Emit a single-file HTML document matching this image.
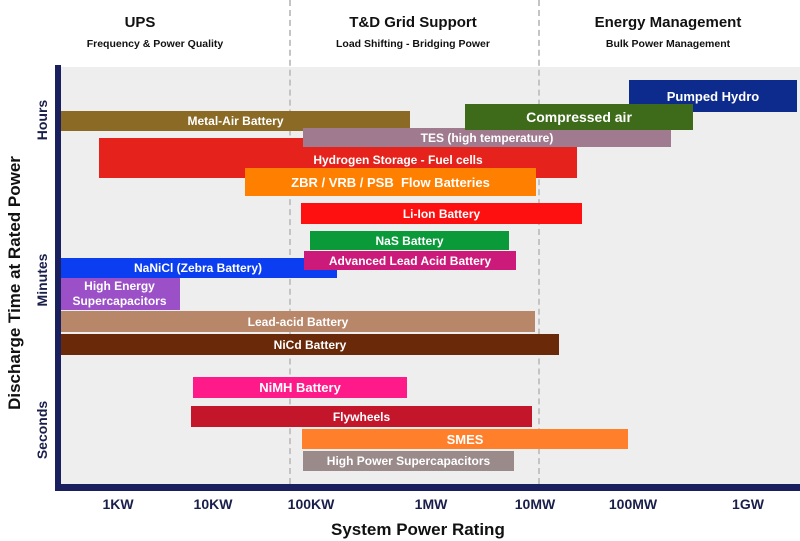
<!DOCTYPE html>
<html><head><meta charset="utf-8"><style>
body{margin:0;width:800px;height:541px;background:#fff;position:relative;overflow:hidden;font-family:"Liberation Sans",sans-serif;font-weight:bold}
.a{position:absolute}
.b{position:absolute;color:#fff;display:flex;align-items:center;justify-content:center;font-size:12px;white-space:nowrap}
.h{position:absolute;text-align:center;color:#111}
.t{position:absolute;top:496px;font-size:14px;color:#1a1f4a;transform:translateX(-50%)}
.y{position:absolute;font-size:14px;color:#1a1f4a;transform:translate(-50%,-50%) rotate(-90deg)}
</style></head><body>
<div class="a" style="left:61px;top:67px;width:739px;height:417px;background:#eeeeee"></div>
<div class="a" style="left:289px;top:0;height:484px;border-left:2px dashed #c4c4c4"></div>
<div class="a" style="left:538px;top:0;height:484px;border-left:2px dashed #c4c4c4"></div>
<div class="h" style="left:40px;width:200px;top:14px;font-size:15px">UPS</div>
<div class="h" style="width:260px;left:25px;top:38px;font-size:10.5px">Frequency &amp; Power Quality</div>
<div class="h" style="left:313px;width:200px;top:14px;font-size:15px">T&amp;D Grid Support</div>
<div class="h" style="left:293px;width:240px;top:38px;font-size:10.5px">Load Shifting - Bridging Power</div>
<div class="h" style="left:568px;width:200px;top:14px;font-size:15px">Energy Management</div>
<div class="h" style="left:568px;width:200px;top:38px;font-size:10.5px">Bulk Power Management</div>

<div class="b" style="left:629px;top:80px;width:168px;height:32px;background:#0d2b8c;font-size:13px">Pumped Hydro</div>
<div class="b" style="left:61px;top:111px;width:349px;height:20px;background:#8a6a25">Metal-Air Battery</div>
<div class="b" style="left:99px;top:138px;width:478px;height:40px;background:#e5221b;padding-left:120px;padding-top:4px;box-sizing:border-box">Hydrogen Storage - Fuel cells</div>
<div class="b" style="left:303px;top:128px;width:368px;height:19px;background:#a07a8f">TES (high temperature)</div>
<div class="b" style="left:465px;top:104px;width:228px;height:26px;background:#3d6b1a;font-size:14px">Compressed air</div>
<div class="b" style="left:245px;top:168px;width:291px;height:28px;background:#ff8000;font-size:13px">ZBR / VRB / PSB &nbsp;Flow Batteries</div>
<div class="b" style="left:301px;top:203px;width:281px;height:21px;background:#ff1010">Li-Ion Battery</div>
<div class="b" style="left:310px;top:231px;width:199px;height:19px;background:#0a9a3a">NaS Battery</div>
<div class="b" style="left:59px;top:258px;width:278px;height:20px;background:#0a3ef0">NaNiCl (Zebra Battery)</div>
<div class="b" style="left:304px;top:251px;width:212px;height:19px;background:#cc1a7a">Advanced Lead Acid Battery</div>
<div class="b" style="left:59px;top:278px;width:121px;height:32px;background:#9b50c8;white-space:normal;text-align:center;line-height:15px">High Energy Supercapacitors</div>
<div class="b" style="left:61px;top:311px;width:474px;height:21px;background:#b8876a">Lead-acid Battery</div>
<div class="b" style="left:61px;top:334px;width:498px;height:21px;background:#6a2a0a">NiCd Battery</div>
<div class="b" style="left:193px;top:377px;width:214px;height:21px;background:#ff1a8a;font-size:13px">NiMH Battery</div>
<div class="b" style="left:191px;top:406px;width:341px;height:21px;background:#c4162a">Flywheels</div>
<div class="b" style="left:302px;top:429px;width:326px;height:20px;background:#ff7f2a;font-size:13px">SMES</div>
<div class="b" style="left:303px;top:451px;width:211px;height:20px;background:#9a8a8a">High Power Supercapacitors</div>

<div class="a" style="left:55px;top:65px;width:6px;height:426px;background:#1a1f5e"></div>
<div class="a" style="left:55px;top:484px;width:745px;height:7px;background:#1a1f5e"></div>
<div class="t" style="left:118px">1KW</div>
<div class="t" style="left:213px">10KW</div>
<div class="t" style="left:311px">100KW</div>
<div class="t" style="left:431px">1MW</div>
<div class="t" style="left:535px">10MW</div>
<div class="t" style="left:633px">100MW</div>
<div class="t" style="left:748px">1GW</div>
<div class="a" style="left:331px;top:520px;font-size:17px;color:#111">System Power Rating</div>
<div class="y" style="left:42px;top:120px">Hours</div>
<div class="y" style="left:42px;top:280px">Minutes</div>
<div class="y" style="left:42px;top:430px">Seconds</div>
<div class="a" style="left:15px;top:283px;font-size:17px;color:#111;white-space:nowrap;transform:translate(-50%,-50%) rotate(-90deg)">Discharge Time at Rated Power</div>
</body></html>
